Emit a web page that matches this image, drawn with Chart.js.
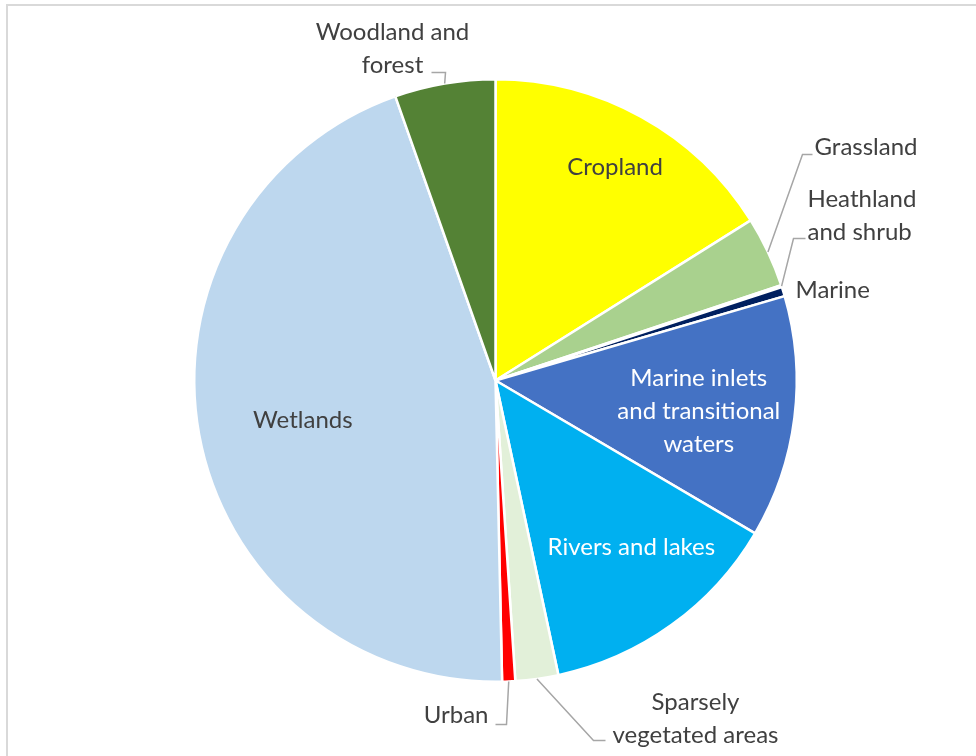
<!DOCTYPE html>
<html>
<head>
<meta charset="utf-8">
<script src="https://cdn.jsdelivr.net/npm/chart.js@4"></script>
<style>
  body { margin: 0; background: #fff; }
  #wrap { width: 976px; height: 756px; position: relative; }
</style>
</head>
<body>
<div id="wrap"><canvas id="grafico" width="976" height="756"></canvas></div>
<script>
// ====================
// Datos
// ====================
const categorias = ["Cropland", "Grassland", "Heathland and shrub", "Marine",
    "Marine inlets and transitional waters", "Rivers and lakes",
    "Sparsely vegetated areas", "Urban", "Wetlands", "Woodland and forest"];
const valores = [16.1, 3.8, 0.1, 0.5, 13.0, 13.2, 2.3, 0.7, 45.0, 5.4];
const colores = ["#FFFF00", "#A9D18E", "#7F6000", "#002060", "#4472C4",
    "#00B0F0", "#E2F0D9", "#FF0000", "#BDD7EE", "#548235"];

// texto de etiquetas (líneas)
const etiquetas = [
    ["Cropland"], ["Grassland"], ["Heathland", "and shrub"], ["Marine"],
    ["Marine inlets", "and transitional", "waters"], ["Rivers and lakes"],
    ["Sparsely", "vegetated areas"], ["Urban"], ["Wetlands"], ["Woodland and", "forest"]
];

// posición de etiquetas: inside -> fracción del radio; outside -> offset desde el centro
const posEtiquetas = [
    { inside: true, frac: 0.82, color: "#404040", dy: 3 },
    { dx: 319, dy: -233, align: "left", leader: [[307, -226], [317, -226]] },
    { dx: 312, dy: -165, align: "left", leader: [[298, -142], [310, -142]] },
    { dx: 300, dy: -90, align: "left" },
    { inside: true, frac: 0.68, color: "#FFFFFF", dy: 5 },
    { inside: true, frac: 0.72, color: "#FFFFFF", shift: -3, dy: -2 },
    { dx: 200, dy: 338, align: "center", leader: [[98, 360], [110, 360]] },
    { dx: -7, dy: 335, align: "right", leader: [[11, 344], [0, 344]] },
    { inside: true, frac: 0.65, color: "#404040", dy: 5 },
    { dx: -103, dy: -332, align: "center", leader: [[-50, -308], [-64, -308]] }
];

const FUENTE = "24px Lato, 'Open Sans', sans-serif";
const ALTO_LINEA = 33;

const pluginEtiquetas = {
    id: "etiquetas",
    beforeDraw(chart) {
        const ctx = chart.ctx;
        ctx.save();
        ctx.strokeStyle = "#D9D9D9";
        ctx.lineWidth = 2;
        ctx.strokeRect(7, 5, 1100, 1100);
        ctx.restore();
    },
    afterDatasetsDraw(chart) {
        const ctx = chart.ctx;
        const arcos = chart.getDatasetMeta(0).data;
        ctx.save();
        ctx.font = FUENTE;
        ctx.textBaseline = "middle";
        arcos.forEach((arco, i) => {
            const p = arco.getProps(["x", "y", "startAngle", "endAngle", "outerRadius"], true);
            const medio = (p.startAngle + p.endAngle) / 2;
            const cfg = posEtiquetas[i];
            const lineas = etiquetas[i];
            let tx, ty, align;
            if (cfg.inside) {
                const r = p.outerRadius * cfg.frac;
                const a = medio + (cfg.shift || 0) * Math.PI / 180;
                tx = p.x + Math.cos(a) * r;
                ty = p.y + Math.sin(a) * r + (cfg.dy || 0);
                align = "center";
                ctx.fillStyle = cfg.color;
            } else {
                tx = p.x + cfg.dx;
                ty = p.y + cfg.dy;
                align = cfg.align;
                ctx.fillStyle = "#404040";
                if (cfg.leader) {
                    ctx.strokeStyle = "#A6A6A6";
                    ctx.lineWidth = 1.5;
                    ctx.beginPath();
                    ctx.moveTo(p.x + Math.cos(medio) * p.outerRadius, p.y + Math.sin(medio) * p.outerRadius);
                    cfg.leader.forEach(pt => ctx.lineTo(p.x + pt[0], p.y + pt[1]));
                    ctx.stroke();
                }
            }
            ctx.textAlign = align;
            const y0 = ty - (lineas.length - 1) * ALTO_LINEA / 2;
            lineas.forEach((t, k) => ctx.fillText(t, tx, y0 + k * ALTO_LINEA));
        });
        ctx.restore();
    }
};

// ====================
// Gráfico de Torta
// ====================
const ctxTorta = document.getElementById("grafico");
new Chart(ctxTorta, {
    type: "pie",
    data: {
        labels: categorias,
        datasets: [{
            data: valores,
            backgroundColor: colores,
            borderColor: "#FFFFFF",
            borderWidth: 2.5
        }]
    },
    options: {
        responsive: false,
        animation: false,
        layout: { padding: { left: 193, right: 178, top: 78, bottom: 73 } },
        plugins: {
            legend: { display: false },
            tooltip: { enabled: false }
        }
    },
    plugins: [pluginEtiquetas]
});
</script>
</body>
</html>
